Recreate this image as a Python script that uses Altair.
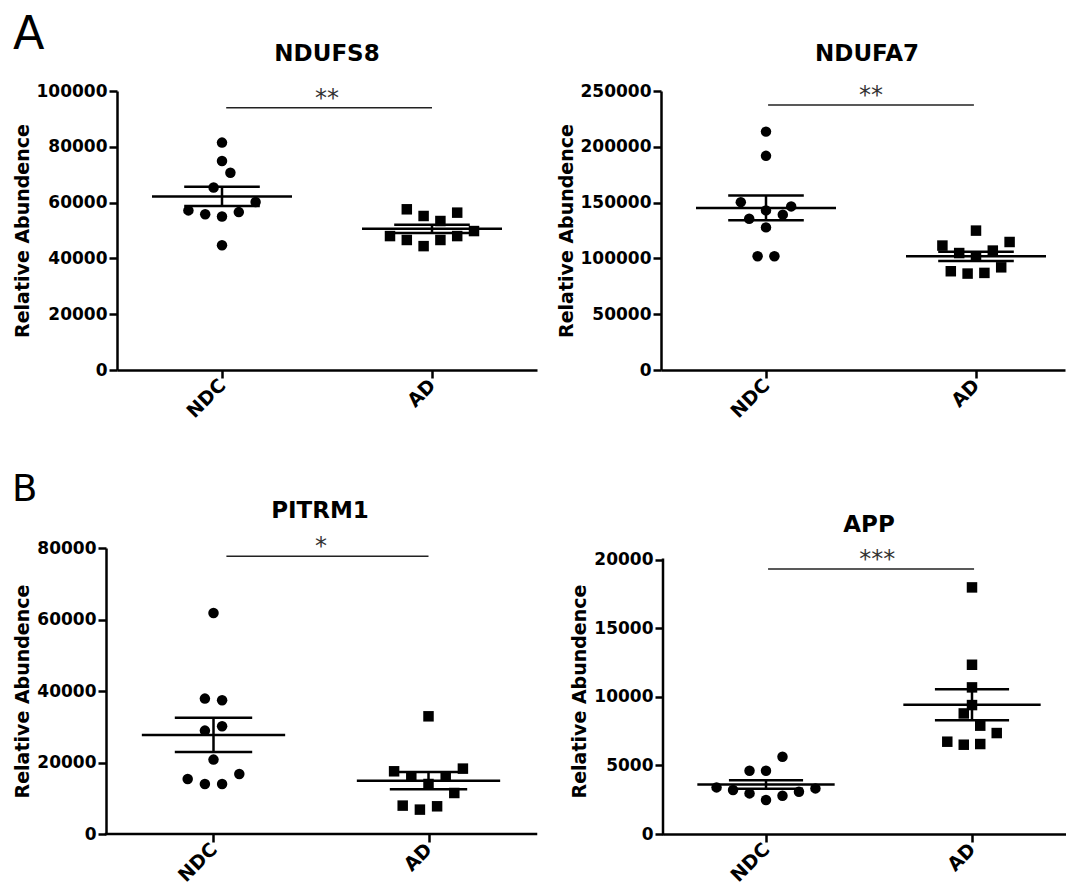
import altair as alt
import pandas as pd
import numpy as np

groups = ["NDC", "AD"]
y_title = "Relative Abundence"
titles = ["NDUFS8", "NDUFA7", "PITRM1", "APP"]
stars = ["**", "**", "*", "***"]
panel_letters = ["A", "B"]

# NDUFS8
ndufs8_ndc = [81500, 74900, 70700, 65400, 60200, 57200, 55800, 55000, 56600, 44700]
ndufs8_ndc_dx = [0, 0, 0.04, -0.04, 0.16, -0.16, -0.08, 0, 0.08, 0]
ndufs8_ad = [57600, 55200, 56400, 53400, 48000, 46600, 44400, 46600, 48000, 49800]
ndufs8_ad_dx = [-0.12, -0.04, 0.12, 0.04, -0.2, -0.12, -0.04, 0.04, 0.12, 0.2]

# NDUFA7
ndufa7_ndc = [213600, 191900, 150400, 146600, 143000, 139200, 135600, 127800, 101900, 101900]
ndufa7_ndc_dx = [0, 0, -0.12, 0.12, 0, 0.08, -0.08, 0, -0.04, 0.04]
ndufa7_ad = [124900, 111500, 114700, 104800, 107000, 101900, 88500, 86400, 87000, 92000]
ndufa7_ad_dx = [0, -0.16, 0.16, -0.08, 0.08, 0, -0.12, -0.04, 0.04, 0.12]

# PITRM1
pitrm1_ndc = [61800, 37870, 37400, 28920, 30120, 20810, 15380, 13985, 13985, 16780]
pitrm1_ndc_dx = [0, -0.04, 0.04, -0.04, 0.04, 0, -0.12, -0.04, 0.04, 0.12]
pitrm1_ad = [32920, 17540, 18290, 16140, 16140, 13985, 11470, 7940, 6820, 7750]
pitrm1_ad_dx = [0, -0.16, 0.16, -0.08, 0.08, 0, 0.12, -0.12, -0.04, 0.04]

# APP
app_ndc = [5635, 4615, 4615, 3397, 3208, 2960, 2479, 2792, 3084, 3324]
app_ndc_dx = [0.08, -0.08, 0, -0.24, -0.16, -0.08, 0, 0.08, 0.16, 0.24]
app_ad = [17980, 12340, 10690, 9400, 8790, 7900, 7360, 6730, 6510, 6560]
app_ad_dx = [0, 0, 0, 0, -0.04, 0.04, 0.12, -0.12, -0.04, 0.04]

# y axes: top tick, step
y_top = [100000, 250000, 80000, 20000]
y_step = [20000, 50000, 20000, 5000]
# significance bars: y level, x from, x to, star x
sig_y = [94000, 237500, 77700, 19320]
sig_from = [0.02, 0.01, 0.06, 0.01]
sig_to = [1.0, 0.99, 1.0, 1.01]
star_at = [0.5, 0.5, 0.5, 0.54]

FONT = "DejaVu Sans"
MEAN_HALF = 1 / 3
SEM_HALF = 0.18
LW = 2.5


def panel(i, ndc, ndc_dx, ad, ad_dx, width, height, xdom, ydom_max,
          yoffset=0, own_xline=False, own_yline=False, title_xy=(0, 0),
          letter=None, letter_xy=None, letter_size=46):
    pts = pd.DataFrame({
        "grp": [groups[0]] * len(ndc) + [groups[1]] * len(ad),
        "g": [0] * len(ndc) + [1] * len(ad),
        "dx": ndc_dx + ad_dx,
        "value": ndc + ad,
    })
    pts["x"] = pts["g"] + pts["dx"]
    st = pts.groupby("g")["value"].agg(["mean", "std", "count"]).reset_index()
    st["sem"] = st["std"] / np.sqrt(st["count"])
    st["lo"] = st["mean"] - st["sem"]
    st["hi"] = st["mean"] + st["sem"]
    st["m1"] = st["g"] - MEAN_HALF
    st["m2"] = st["g"] + MEAN_HALF
    st["s1"] = st["g"] - SEM_HALF
    st["s2"] = st["g"] + SEM_HALF
    caps = pd.concat([st.assign(cap=st["lo"]), st.assign(cap=st["hi"])])

    xs = alt.Scale(domain=xdom, nice=False, zero=False)
    ys = alt.Scale(domain=[0, ydom_max], nice=False, zero=True)
    xaxis = alt.Axis(
        values=[0, 1],
        labelExpr=f"datum.value == 0 ? '{groups[0]}' : '{groups[1]}'",
        labelAngle=-45, labelAlign="right", labelBaseline="middle",
        labelFont=FONT, labelFontSize=19, labelFontWeight="bold",
        labelColor="black", labelPadding=4, labelFlush=False,
        tickSize=8, tickWidth=LW, tickColor="black",
        domain=not own_xline, domainWidth=LW, domainColor="black",
        grid=False, title=None,
    )
    yaxis = alt.Axis(
        values=list(range(0, y_top[i] + 1, y_step[i])), format="d",
        labelFont=FONT, labelFontSize=17, labelFontWeight="bold",
        labelColor="black", labelPadding=2, labelOverlap=False,
        tickSize=8, tickWidth=LW, tickColor="black",
        domain=not own_yline, domainWidth=LW, domainColor="black",
        offset=yoffset, grid=False,
        title=y_title, titleFont=FONT, titleFontSize=19,
        titleFontWeight="bold", titleColor="black", titlePadding=4,
    )

    def X(f):
        return alt.X(f, scale=xs, axis=xaxis)

    def Y(f):
        return alt.Y(f, scale=ys, axis=yaxis)

    layers = []
    layers.append(
        alt.Chart(pts).mark_point(filled=True, opacity=1, color="black",
                                  size=110, strokeWidth=0).encode(
            x=X("x:Q"), y=Y("value:Q"),
            shape=alt.Shape("grp:N", scale=alt.Scale(domain=groups, range=["circle", "square"]),
                            legend=None),
        )
    )
    layers.append(
        alt.Chart(st).mark_rule(color="black", strokeWidth=LW).encode(
            x=X("m1:Q"), x2="m2:Q", y=Y("mean:Q"),
        )
    )
    layers.append(
        alt.Chart(caps).mark_rule(color="black", strokeWidth=LW).encode(
            x=X("s1:Q"), x2="s2:Q", y=Y("cap:Q"),
        )
    )
    layers.append(
        alt.Chart(st).mark_rule(color="black", strokeWidth=LW).encode(
            x=X("g:Q"), y=Y("lo:Q"), y2="hi:Q",
        )
    )
    sig = pd.DataFrame({"x1": [sig_from[i]], "x2": [sig_to[i]], "y": [sig_y[i]],
                        "sx": [star_at[i]], "star": [stars[i]]})
    layers.append(
        alt.Chart(sig).mark_rule(color="#222222", strokeWidth=1.5).encode(
            x=X("x1:Q"), x2="x2:Q", y=Y("y:Q"),
        )
    )
    layers.append(
        alt.Chart(sig).mark_text(font=FONT, fontSize=24, color="#333333",
                                 align="center", baseline="alphabetic", dy=-2).encode(
            x=X("sx:Q"), y=Y("y:Q"), text="star:N",
        )
    )
    if own_xline:
        xl = pd.DataFrame({"x1": [-0.5], "x2": [xdom[1]], "y": [0]})
        layers.append(
            alt.Chart(xl).mark_rule(color="black", strokeWidth=LW, strokeCap="square").encode(
                x=X("x1:Q"), x2="x2:Q", y=Y("y:Q"),
            )
        )
    if own_yline:
        yl = pd.DataFrame({"y1": [0], "y2": [y_top[i]]})
        layers.append(
            alt.Chart(yl).mark_rule(color="black", strokeWidth=LW, strokeCap="square").encode(
                x=alt.value(0), y=Y("y1:Q"), y2="y2:Q",
            )
        )
    tdf = pd.DataFrame({"t": [titles[i]]})
    layers.append(
        alt.Chart(tdf).mark_text(font=FONT, fontSize=23, fontWeight="bold", color="black",
                                 align="center", baseline="alphabetic").encode(
            x=alt.value(title_xy[0]), y=alt.value(title_xy[1]), text="t:N",
        )
    )
    if letter is not None:
        ldf = pd.DataFrame({"t": [letter]})
        layers.append(
            alt.Chart(ldf).mark_text(font=FONT, fontSize=letter_size, color="black",
                                     align="left", baseline="alphabetic").encode(
                x=alt.value(letter_xy[0]), y=alt.value(letter_xy[1]), text="t:N",
            )
        )
    return alt.layer(*layers).properties(width=width, height=height)


p1 = panel(0, ndufs8_ndc, ndufs8_ndc_dx, ndufs8_ad, ndufs8_ad_dx,
           width=420, height=279, xdom=[-0.5, 1.5], ydom_max=100000,
           title_xy=(210, -30), letter=panel_letters[0], letter_xy=(-104, -42),
           letter_size=46)
p2 = panel(1, ndufa7_ndc, ndufa7_ndc_dx, ndufa7_ad, ndufa7_ad_dx,
           width=404, height=279, xdom=[-0.5, -0.5 + 404 / 210], ydom_max=250000,
           title_xy=(206, -30))
p3 = panel(2, pitrm1_ndc, pitrm1_ndc_dx, pitrm1_ad, pitrm1_ad_dx,
           width=419, height=286, xdom=[-0.5 + 11 / 215, 1.5], ydom_max=80000,
           yoffset=11, own_xline=True,
           title_xy=(203, -30), letter=panel_letters[1], letter_xy=(-105, -47),
           letter_size=37)
p4 = panel(3, app_ndc, app_ndc_dx, app_ad, app_ad_dx,
           width=403, height=286, xdom=[-0.5, -0.5 + 403 / 206],
           ydom_max=20000 * 286 / 274.3, own_yline=True,
           title_xy=(206, -16))

row1 = alt.hconcat(p1, p2, spacing=20)
row2 = alt.hconcat(p3, p4, spacing=32)
chart = alt.vconcat(row1, row2, spacing=49).properties(
    padding={"left": 12, "top": 12, "right": 0, "bottom": 0}
).configure_view(stroke=None)

chart.save("out.html", embed_options={"renderer": "svg", "actions": False})
